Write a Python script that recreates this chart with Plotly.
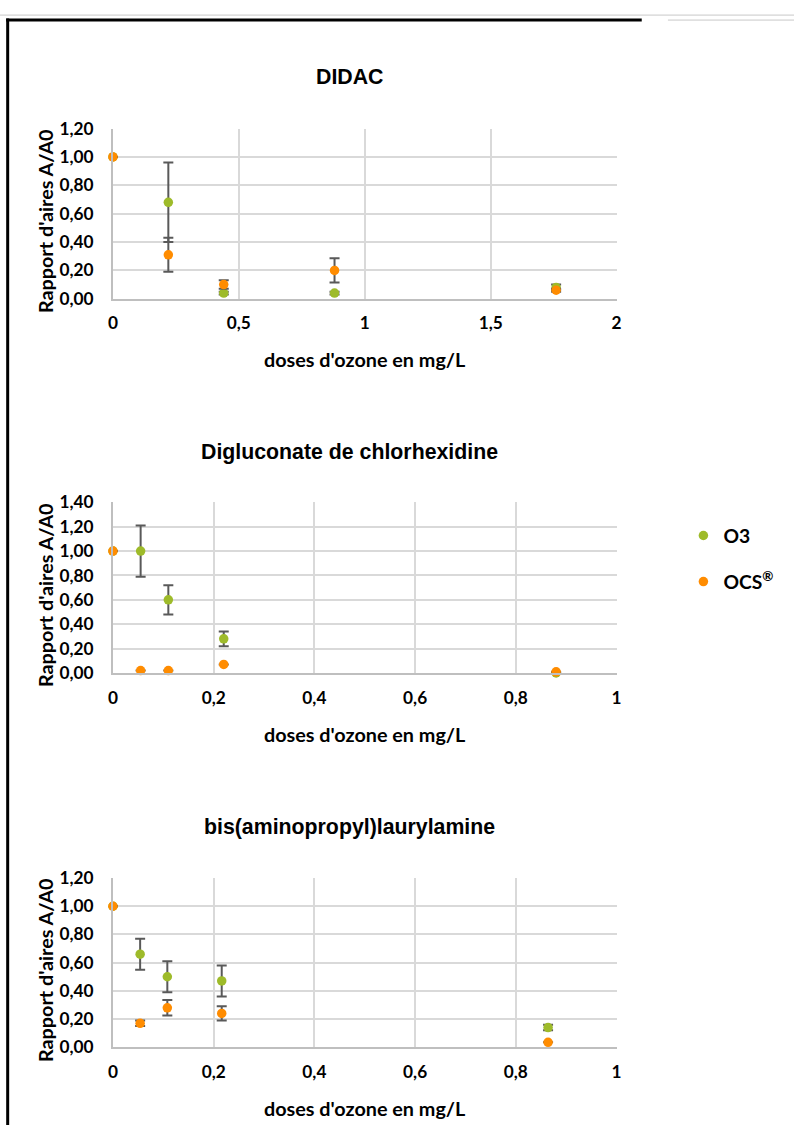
import plotly.graph_objects as go

# ---- data ----
didac_x = [0, 0.22, 0.44, 0.88, 1.76]
didac_o3 = [1.00, 0.68, 0.04, 0.04, 0.08]
didac_o3_err = [0.0, 0.28, 0.01, 0.01, 0.02]
didac_ocs = [1.00, 0.31, 0.10, 0.20, 0.06]
didac_ocs_err = [0.0, 0.12, 0.03, 0.085, 0.01]

chx_x = [0, 0.055, 0.11, 0.22, 0.88]
chx_o3 = [1.00, 1.00, 0.60, 0.28, 0.00]
chx_o3_err = [0.0, 0.21, 0.12, 0.06, 0.0]
chx_ocs = [1.00, 0.02, 0.02, 0.07, 0.01]
chx_ocs_err = [0.0, 0.0, 0.0, 0.0, 0.0]

bis_x = [0, 0.054, 0.108, 0.216, 0.864]
bis_o3 = [1.00, 0.66, 0.50, 0.47, 0.14]
bis_o3_err = [0.0, 0.11, 0.11, 0.11, 0.02]
bis_ocs = [1.00, 0.17, 0.28, 0.24, 0.035]
bis_ocs_err = [0.0, 0.02, 0.055, 0.05, 0.0]

titles = ["DIDAC", "Digluconate de chlorhexidine", "bis(aminopropyl)laurylamine"]
x_ranges = [[0, 2], [0, 1], [0, 1]]
x_dticks = [0.5, 0.2, 0.2]
y_ranges = [[0, 1.2], [0, 1.4], [0, 1.2]]
series_names = ["O3", "OCS<sup>®</sup>"]
x_title = "doses d'ozone en mg/L"
y_title = "Rapport d'aires A/A0"

GREEN = "#9EBB2A"
ORANGE = "#FF8C00"
ERR = "#595959"
GRID = "#D9D9D9"
AXIS = "#BFBFBF"
TICKFONT = "Lato, sans-serif"
TITLEFONT = "Liberation Sans, Arial, sans-serif"

W, H = 799, 1135
# the page keeps an 8px body margin and the whole page is scaled back into
# the window; map target window pixels to figure paper coordinates
OFF = 8
SX, SY = (W + 2 * OFF) / W, (H + 2 * OFF) / H
FS = 1.015


def fx(px):
    return (px * SX - OFF) / W


def fy(py):
    return 1 - (py * SY - OFF) / H


x_left, x_right = 115, 615
plots_px = [(126, 297), (501.5, 673), (879, 1049)]
title_offsets = [52, 51, 51]

datasets = [
    (didac_x, didac_o3, didac_o3_err, didac_ocs, didac_ocs_err),
    (chx_x, chx_o3, chx_o3_err, chx_ocs, chx_ocs_err),
    (bis_x, bis_o3, bis_o3_err, bis_ocs, bis_ocs_err),
]

fig = go.Figure()
annotations = []
for i, (xs, o3, o3e, ocs, ocse) in enumerate(datasets):
    n = i + 1
    xa = "x" if n == 1 else f"x{n}"
    ya = "y" if n == 1 else f"y{n}"
    fig.add_trace(go.Scatter(
        x=xs, y=o3, mode="markers", name=series_names[0], xaxis=xa, yaxis=ya,
        marker=dict(color=GREEN, size=9.5),
        error_y=dict(type="data", array=o3e, color=ERR, thickness=2, width=5),
        cliponaxis=False, showlegend=(n == 1), legendgroup="o3"))
    fig.add_trace(go.Scatter(
        x=xs, y=ocs, mode="markers", name=series_names[1], xaxis=xa, yaxis=ya,
        marker=dict(color=ORANGE, size=9.5),
        error_y=dict(type="data", array=ocse, color=ERR, thickness=2, width=5),
        cliponaxis=False, showlegend=(n == 1), legendgroup="ocs"))

    top, bot = plots_px[i]
    ydom = [fy(bot), fy(top)]
    xdom = [fx(x_left), fx(x_right)]
    xkey = "xaxis" if n == 1 else f"xaxis{n}"
    ykey = "yaxis" if n == 1 else f"yaxis{n}"
    fig.update_layout(**{
        xkey: dict(domain=xdom, range=x_ranges[i], dtick=x_dticks[i], tick0=0,
                   showgrid=True, gridcolor=GRID, gridwidth=2,
                   showline=True, linecolor=AXIS, linewidth=2,
                   zeroline=False, anchor=ya, ticks="", ticklabelstandoff=8,
                   tickfont=dict(family=TICKFONT, size=17 * FS, color="#000000", weight="bold")),
        ykey: dict(domain=ydom, range=y_ranges[i], dtick=0.2, tick0=0, tickformat=".2f",
                   showgrid=True, gridcolor=GRID, gridwidth=2,
                   showline=True, linecolor=AXIS, linewidth=2,
                   zeroline=False, anchor=xa, ticks="", ticklabelstandoff=14,
                   tickfont=dict(family=TICKFONT, size=17 * FS, color="#000000", weight="bold")),
    })
    annotations.append(dict(text=f"<b>{titles[i]}</b>", x=fx(350), y=fy(top - title_offsets[i]),
                            xref="paper", yref="paper", showarrow=False,
                            xanchor="center", yanchor="middle",
                            font=dict(family=TITLEFONT, size=21 * FS, color="#000000")))
    annotations.append(dict(text=f"<b>{x_title}</b>", x=fx(365), y=fy(bot + 61),
                            xref="paper", yref="paper", showarrow=False,
                            xanchor="center", yanchor="middle",
                            font=dict(family=TICKFONT, size=19.5 * FS, color="#000000")))
    annotations.append(dict(text=f"<b>{y_title}</b>", x=fx(47), y=fy((top + bot) / 2 + 7),
                            xref="paper", yref="paper", showarrow=False, textangle=-90,
                            xanchor="center", yanchor="middle",
                            font=dict(family=TICKFONT, size=19.5 * FS, color="#000000")))

shapes = [
    dict(type="line", xref="paper", yref="paper", x0=fx(10.5), x1=fx(10.5), y0=0, y1=fy(15.5),
         line=dict(color="#000000", width=3)),
    dict(type="line", xref="paper", yref="paper", x0=fx(9), x1=fx(640), y0=fy(17), y1=fy(17),
         line=dict(color="#000000", width=3)),
    dict(type="line", xref="paper", yref="paper", x0=fx(0), x1=1, y0=fy(12), y1=fy(12),
         line=dict(color="#C8C8C8", width=1)),
    dict(type="line", xref="paper", yref="paper", x0=fx(666), x1=1, y0=fy(17), y1=fy(17),
         line=dict(color="#C8C8C8", width=1)),
]

fig.update_layout(
    width=W, height=H, margin=dict(l=0, r=0, t=0, b=0, pad=0),
    paper_bgcolor="#FFFFFF", plot_bgcolor="#FFFFFF",
    separators=", ",
    annotations=annotations, shapes=shapes,
    legend=dict(x=687 / W, y=1 - 515 / H, xanchor="left", yanchor="top",
                traceorder="grouped", tracegroupgap=18, itemwidth=30,
                font=dict(family=TICKFONT, size=19 * FS, color="#000000", weight="bold"),
                bgcolor="rgba(0,0,0,0)"),
)

fig.write_html("out.html")
